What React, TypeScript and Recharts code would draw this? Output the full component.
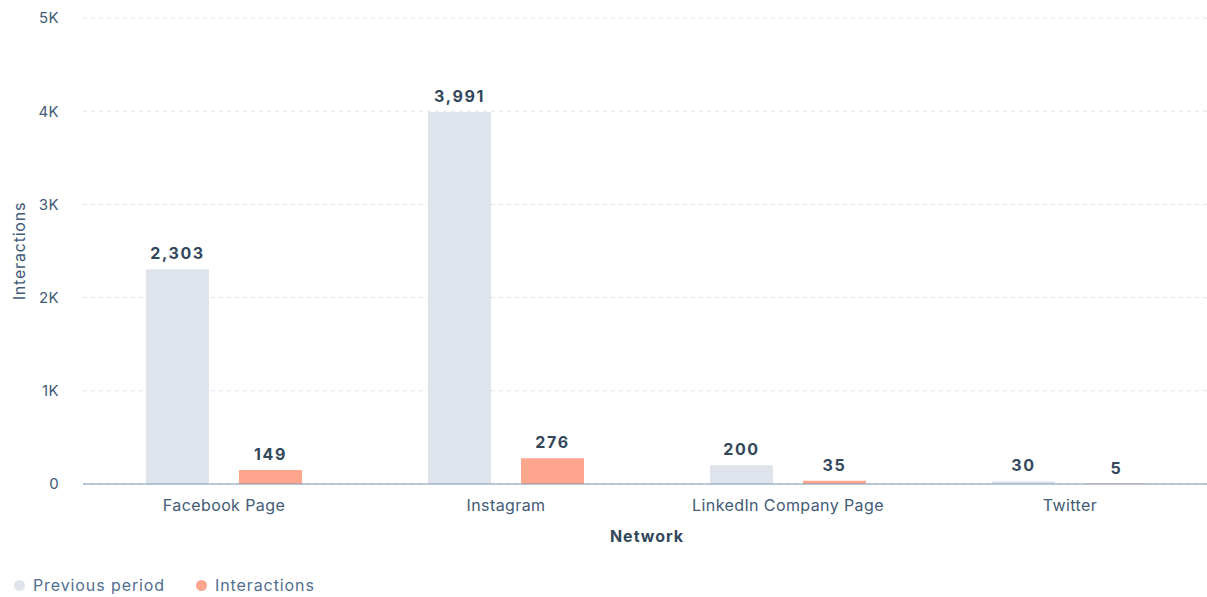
import { Bar, BarChart, CartesianGrid, LabelList, Legend, XAxis, YAxis } from "recharts";

const networks = ["Facebook Page", "Instagram", "LinkedIn Company Page", "Twitter"];
const previousPeriod = [2303, 3991, 200, 30];
const interactions = [149, 276, 35, 5];
const yTicks = [0, 1000, 2000, 3000, 4000, 5000];

const data = networks.map((network, i) => ({
  network,
  previous: previousPeriod[i],
  interactions: interactions[i],
}));

const FONT = "Inter, 'Open Sans', sans-serif";
const TEXT = "#33475b";
const SUB = "#425b76";
const PREV_COLOR = "#dfe4ec";
const INT_COLOR = "#fea58e";

const fmtTick = (v: number) => (v === 0 ? "0" : `${v / 1000}K`);
const fmtValue = (v: any) => Number(v).toLocaleString("en-US");

const valueStyle = { fill: TEXT, fontSize: 16, fontWeight: 700, fontFamily: FONT, letterSpacing: "1.6px" };

function LegendContent() {
  const items = [
    { name: "Previous period", color: PREV_COLOR },
    { name: "Interactions", color: INT_COLOR },
  ];
  return (
    <div style={{ display: "flex", alignItems: "flex-end", height: 44, paddingLeft: 11, fontFamily: FONT }}>
      {items.map((it) => (
        <div
          key={it.name}
          style={{ display: "flex", alignItems: "center", marginRight: 31, lineHeight: "20px", position: "relative", top: 3 }}
        >
          <span
            style={{ width: 11, height: 11, borderRadius: "50%", background: it.color, display: "inline-block", marginRight: 8 }}
          />
          <span style={{ fontSize: 16, color: "#516f90", letterSpacing: "0.9px" }}>{it.name}</span>
        </div>
      ))}
    </div>
  );
}

export default function App() {
  return (
    <div style={{ position: "absolute", left: 0, top: 0, background: "#fff" }}>
      <BarChart
        width={1207}
        height={597}
        data={data}
        margin={{ top: 18, right: -4, left: 3, bottom: 5 }}
        barSize={63}
        barGap={30}
      >
        <CartesianGrid vertical={false} strokeDasharray="4 4" stroke="#dfe3eb" />
        <XAxis
          dataKey="network"
          height={64}
          tickLine={false}
          axisLine={{ stroke: "#7c98b6" }}
          tickSize={0}
          tickMargin={16}
          tick={{ fill: SUB, fontSize: 16, fontFamily: FONT, letterSpacing: "0.4px" } as any}
          label={{
            value: "Network",
            position: "insideBottom",
            offset: 6,
            style: { fill: TEXT, fontSize: 16, fontWeight: 700, fontFamily: FONT, letterSpacing: "1px" },
          }}
        />
        <YAxis
          width={80}
          domain={[0, 5000]}
          ticks={yTicks}
          tickFormatter={fmtTick}
          axisLine={false}
          tickLine={false}
          tickSize={0}
          tickMargin={24}
          tick={{ fill: SUB, fontSize: 15, fontFamily: FONT, letterSpacing: "0.4px" } as any}
          label={{
            value: "Interactions",
            angle: -90,
            position: "center",
            dx: -24,
            style: { fill: SUB, fontSize: 16, fontFamily: FONT, textAnchor: "middle", letterSpacing: "0.8px" },
          }}
        />
        <Legend verticalAlign="bottom" align="left" height={44} content={<LegendContent />} />
        <Bar dataKey="previous" name="Previous period" fill={PREV_COLOR} isAnimationActive={false}>
          <LabelList dataKey="previous" position="top" offset={10} formatter={fmtValue} style={valueStyle} />
        </Bar>
        <Bar dataKey="interactions" name="Interactions" fill={INT_COLOR} isAnimationActive={false}>
          <LabelList dataKey="interactions" position="top" offset={10} formatter={fmtValue} style={valueStyle} />
        </Bar>
      </BarChart>
    </div>
  );
}
